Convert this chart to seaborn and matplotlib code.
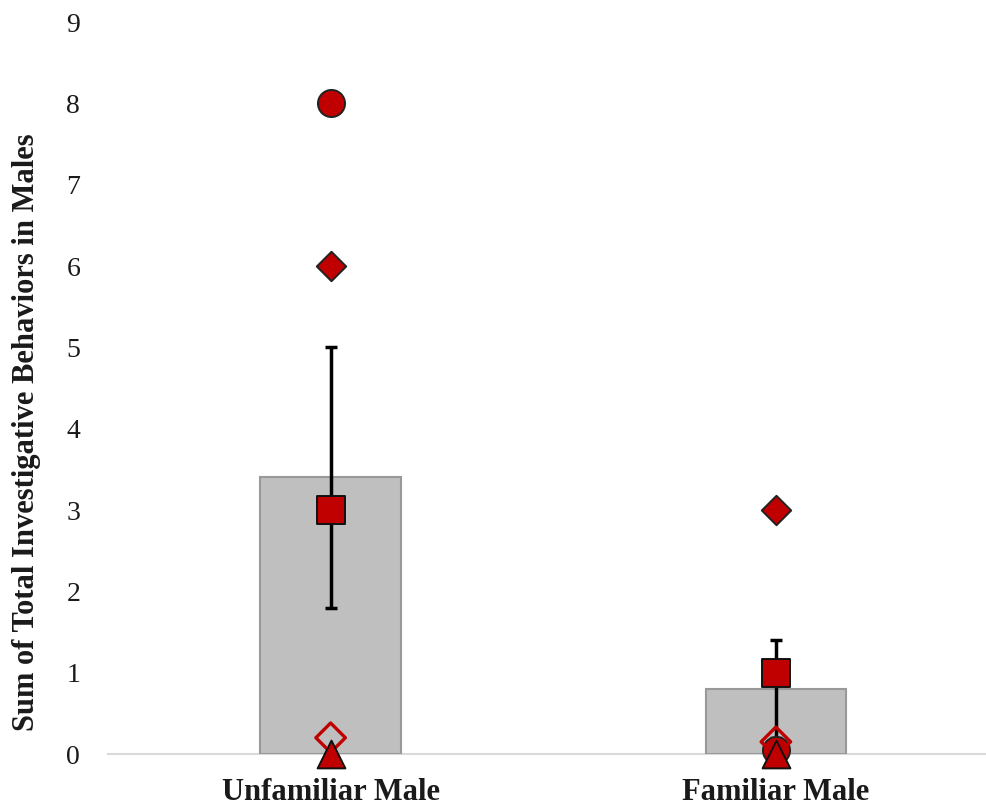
import matplotlib
matplotlib.use("Agg")
import matplotlib.pyplot as plt
import seaborn as sns
import pandas as pd

# Group means, standard errors and individual scores
categories = ["Unfamiliar Male", "Familiar Male"]
group_means = [3.4, 0.8]
group_sem = [1.6, 0.6]

subject_circle = [8, 0.05]
subject_diamond = [6, 3]
subject_square = [3, 1]
subject_open_diamond = [0.2, 0.15]
subject_triangle = [0, 0]

y_ticks = [0, 1, 2, 3, 4, 5, 6, 7, 8, 9]

sns.set_theme(style="white")
plt.rcParams["font.family"] = ["Liberation Serif", "DejaVu Serif"]

fig = plt.figure(figsize=(9.87, 8.05), dpi=100)
ax = fig.add_axes([108 / 987, 1 - 754 / 805, 1 - 108 / 987, (754 - 22) / 805])

bars = pd.DataFrame({"group": categories, "mean": group_means})
sns.barplot(data=bars, x="group", y="mean", order=categories, color="#bfbfbf",
            saturation=1, width=0.315, edgecolor="#999999", linewidth=1.5,
            errorbar=None, ax=ax, zorder=2)

ax.errorbar(x=range(len(categories)), y=group_means, yerr=group_sem, fmt="none",
            ecolor="black", elinewidth=2.5, capsize=4.5, capthick=2.5, zorder=3)

red = "#c00000"
series = [
    (subject_circle, "o", 19.5, red, "#222222", 1.4),
    (subject_diamond, "D", 15, red, "#222222", 1.4),
    (subject_open_diamond, "D", 15, "none", red, 2.4),
    (subject_square, "s", 19.5, red, "#111111", 1.4),
    (subject_triangle, "^", 20, red, "#111111", 1.4),
]
for vals, marker, size, face, edge, lw in series:
    pts = pd.DataFrame({"group": categories, "score": vals})
    sns.scatterplot(data=pts, x="group", y="score", marker=marker, s=size ** 2,
                    facecolor=face, edgecolor=edge, linewidth=lw, ax=ax,
                    zorder=4, clip_on=False, legend=False)

ax.set_xlim(-0.5, 1.5 - 11.5 / 445)
ax.set_ylim(0, 9)
ax.set_yticks(y_ticks)
ax.set_yticklabels([str(t) for t in y_ticks], fontsize=20, color="#1a1a1a")
ax.set_xticks(range(len(categories)))
ax.set_xticklabels(categories, fontsize=22, fontweight="bold", color="#1a1a1a")
ax.tick_params(axis="y", length=0, pad=20)
ax.tick_params(axis="x", length=0, pad=17)
ax.set_xlabel("")
ax.set_ylabel("Sum of Total Investigative Behaviors in Males", fontsize=22,
              fontweight="bold", color="#1a1a1a")
ax.yaxis.label.set_verticalalignment("center")
ax.yaxis.set_label_coords((27 - 108) / 879, (754 - 432) / 732)

for side in ["top", "right", "left"]:
    ax.spines[side].set_visible(False)
ax.spines["bottom"].set_color("#d9d9d9")
ax.spines["bottom"].set_linewidth(1.5)
ax.spines["bottom"].set_zorder(1)
ax.grid(False)

fig.savefig("out.png", dpi=100, facecolor="white")
